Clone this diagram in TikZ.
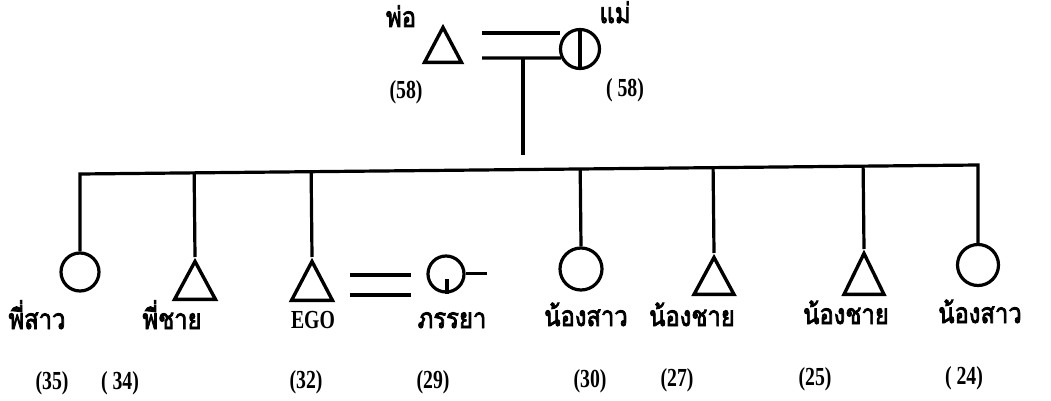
\documentclass[tikz,border=0pt]{standalone}
\usepackage{fontspec}
\setmainfont{Liberation Serif}
\newfontfamily\thaifont[Script=Thai,FakeBold=3]{Loma}
\usetikzlibrary{shapes.geometric,calc}
\tikzset{
  male/.style={draw, line width=3.4pt, isosceles triangle, isosceles triangle stretches,
    shape border rotate=90, minimum width=41pt, minimum height=39pt, inner sep=0pt, anchor=apex},
  female/.style={draw, line width=3.2pt, circle, minimum size=40pt, inner sep=0pt},
  tie/.style={line width=3.2pt},
  kin/.style={font=\thaifont\fontsize{28}{31}\selectfont, xscale=0.85, anchor=base, inner sep=0pt},
  age/.style={font=\bfseries\fontsize{26}{29}\selectfont, xscale=0.76, anchor=base, inner sep=0pt}
}
\begin{document}
\begin{tikzpicture}[x=1pt,y=-1pt]
  \useasboundingbox (0,0) rectangle (1051,401);

  % Parents
  \node[male, minimum width=37pt, minimum height=35pt] (father) at (443,23) {};
  \node[female, minimum size=39pt] (mother) at (580,49) {};
  \draw[tie] (mother.north) -- (mother.south);

  % Marriage of the parents
  \coordinate (pm1) at (482,33);
  \coordinate (pm1e) at (560,33);
  \coordinate (pm2) at (482,58);
  \draw[tie] (pm1) -- (pm1e);
  \draw[tie] (pm2) -- (mother.205);

  % Children
  \node[female, minimum size=38pt] (sis1) at (80,272) {};
  \node[male, minimum height=38pt] (bro1) at (195,257) {};
  \node[male] (ego) at (312,257) {};
  \node[female, minimum size=36pt] (wife) at (446,274) {};
  \node[female, minimum size=42pt] (sis2) at (581,269) {};
  \node[male, minimum width=40pt, minimum height=37pt] (bro2) at (714,253) {};
  \node[male, minimum width=40pt, minimum height=41pt] (bro3) at (864,249) {};
  \node[female, minimum size=41pt] (sis3) at (978,265) {};

  % Line of descent
  \coordinate (desc) at (523,58);
  \coordinate (descEnd) at (523,155);
  \draw[tie] (desc) -- (descEnd);
  \coordinate (sibL) at (80,174);
  \coordinate (sibR) at (978,165);
  \draw[tie] (sis1.north) -- (sibL) -- (sibR) -- (sis3.north);
  \foreach \p/\a in {bro1/apex, ego/apex, sis2/north, bro2/apex, bro3/apex}
    \draw[tie] ($(sibL)!(\p.\a)!(sibR)$) -- (\p.\a);

  % Marriage of EGO
  \coordinate (em1) at (350,275);
  \coordinate (em1e) at (411,275);
  \coordinate (em2) at (350,295);
  \coordinate (em2e) at (411,295);
  \draw[tie] (em1) -- (em1e);
  \draw[tie] (em2) -- (em2e);
  \draw[tie] (wife.2) -- ++(21,0);
  \draw[tie] ([xshift=1pt]wife.south) -- ++(0,-15);

  % Labels of the parents
  \node[kin] (lFather) at (401,27) {พ่อ};
  \node[kin] (lMother) at (615,23) {แม่};
  \node[age] (aFather) at (406,99) {(58)};
  \node[age] (aMother) at (625,97) {( 58)};

  % Labels of the children
  \node[kin] (lSis1) at (37,329) {พี่สาว};
  \node[kin] (lBro1) at (172,329) {พี่ชาย};
  \node[age] (lEgo) at (313,328) {EGO};
  \node[kin] (lWife) at (452,328) {ภรรยา};
  \node[kin] (lSis2) at (586,326) {น้องสาว};
  \node[kin] (lBro2) at (692,326) {น้องชาย};
  \node[kin] (lBro3) at (846,324) {น้องชาย};
  \node[kin] (lSis3) at (980,323) {น้องสาว};

  % Ages of the children
  \node[age] (aSis1) at (52,389) {(35)};
  \node[age] (aBro1) at (120,389) {( 34)};
  \node[age] (aEgo) at (306,388) {(32)};
  \node[age] (aWife) at (433,388) {(29)};
  \node[age] (aSis2) at (590,387) {(30)};
  \node[age] (aBro2) at (677,386) {(27)};
  \node[age] (aBro3) at (815,385) {(25)};
  \node[age] (aSis3) at (964,384) {( 24)};
\end{tikzpicture}
\end{document}
